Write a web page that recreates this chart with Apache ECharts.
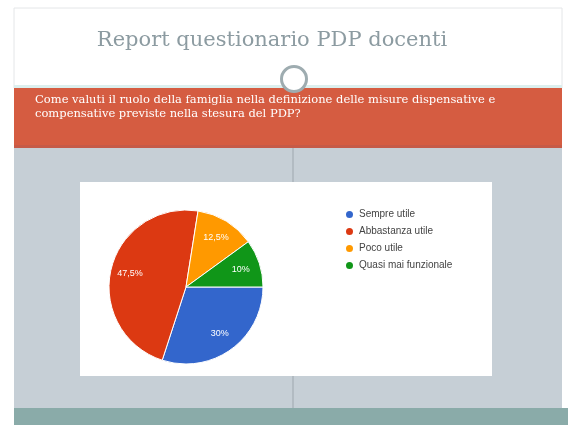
<!DOCTYPE html>
<html>
<head>
<meta charset="utf-8">
<script src="https://cdn.jsdelivr.net/npm/echarts@6/dist/echarts.min.js"></script>
<style>
html,body{margin:0;padding:0;background:#fff;}
#chart{width:568px;height:425px;}
</style>
</head>
<body>
<div id="chart"></div>
<script>
const slideTitle = 'Report questionario PDP docenti';
const questionLines = [
  'Come valuti il ruolo della famiglia nella definizione delle misure dispensative e',
  'compensative previste nella stesura del PDP?'
];
const categories = ['Sempre utile', 'Abbastanza utile', 'Poco utile', 'Quasi mai funzionale'];
const values = [30, 47.5, 12.5, 10];
const colors = ['#3366cc', '#dc3912', '#ff9900', '#109618'];

const pieData = categories.map((c, i) => ({ name: c, value: values[i] }));
const fmt = p => String(+p.percent.toFixed(1)).replace('.', ',') + '%';

const chart = echarts.init(document.getElementById('chart'), null, { renderer: 'canvas' });
chart.setOption({
  animation: false,
  color: colors,
  graphic: [
    { type: 'rect', z: -10, shape: { x: 14, y: 8, width: 548, height: 80 }, style: { fill: '#ffffff', stroke: '#e4e6e8', lineWidth: 1 } },
    { type: 'rect', z: -9, shape: { x: 14, y: 85, width: 548, height: 3 }, style: { fill: '#dcefee' } },
    { type: 'rect', z: -9, shape: { x: 14, y: 88, width: 548, height: 60 }, style: { fill: '#d55c41' } },
    { type: 'rect', z: -9, shape: { x: 14, y: 145, width: 548, height: 3 }, style: { fill: '#c65a47' } },
    { type: 'rect', z: -9, shape: { x: 14, y: 148, width: 548, height: 260 }, style: { fill: '#c6cfd6' } },
    { type: 'rect', z: -8, shape: { x: 292, y: 148, width: 2, height: 260 }, style: { fill: '#b2bbc2' } },
    { type: 'rect', z: -9, shape: { x: 14, y: 408, width: 554, height: 17 }, style: { fill: '#8aaba9' } },
    { type: 'circle', z: -5, shape: { cx: 294, cy: 79, r: 12.5 }, style: { fill: '#ffffff', stroke: '#9eacb0', lineWidth: 3 } },
    { type: 'text', z: -5, style: { x: 272, y: 41, text: slideTitle, fill: '#8c9ba1', font: '21px "DejaVu Serif"', textAlign: 'center', textVerticalAlign: 'middle' } },
    { type: 'text', z: -5, style: { x: 35, y: 100, text: questionLines[0], fill: '#ffffff', font: '11.5px "DejaVu Serif"', textAlign: 'left', textVerticalAlign: 'middle' } },
    { type: 'text', z: -5, style: { x: 35, y: 114, text: questionLines[1], fill: '#ffffff', font: '11.5px "DejaVu Serif"', textAlign: 'left', textVerticalAlign: 'middle' } },
    { type: 'rect', z: -4, shape: { x: 80, y: 182, width: 412, height: 194 }, style: { fill: '#ffffff' } }
  ],
  legend: {
    orient: 'vertical',
    left: 339,
    top: 204,
    icon: 'circle',
    itemWidth: 9,
    itemHeight: 9,
    itemGap: 6,
    data: categories,
    textStyle: { fontFamily: 'Liberation Sans', fontSize: 10, color: '#444', lineHeight: 11 }
  },
  series: [
    {
      type: 'pie',
      center: [186, 287],
      radius: 77,
      startAngle: 0,
      clockwise: true,
      silent: true,
      label: { show: false },
      labelLine: { show: false },
      itemStyle: { borderColor: '#ffffff', borderWidth: 1 },
      data: pieData
    },
    {
      type: 'pie',
      center: [186, 287],
      radius: [32, 77],
      startAngle: 0,
      clockwise: true,
      silent: true,
      legendHoverLink: false,
      label: { show: true, position: 'inside', formatter: fmt, color: '#ffffff', fontFamily: 'Liberation Sans', fontSize: 9 },
      labelLine: { show: false },
      itemStyle: { color: 'rgba(0,0,0,0)' },
      data: pieData
    }
  ]
});
</script>
</body>
</html>
